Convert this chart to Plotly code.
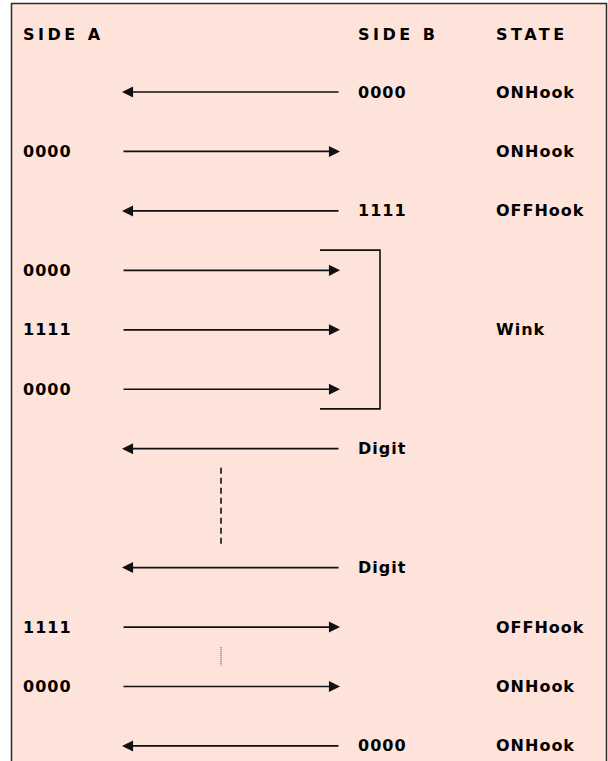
import plotly.graph_objects as go

# ---- data ----
headers = ["SIDE A", "SIDE B", "STATE"]
rows = list(range(1, 13))
side_a = ["", "0000", "", "0000", "1111", "0000", "", "", "", "1111", "0000", ""]
side_b = ["0000", "", "1111", "", "", "", "Digit", "", "Digit", "", "", "0000"]
state = ["ONHook", "ONHook", "OFFHook", "", "Wink", "", "", "", "", "OFFHook", "ONHook", "ONHook"]
direction = ["left", "right", "left", "right", "right", "right", "left", None, "left", "right", "right", "left"]
wink_rows = [4, 6]          # rows grouped by the bracket
gap_rows = [7.32, 8.62]     # dashed continuation between the Digit rows
dot_rows = [10.34, 10.65]   # dotted continuation

# ---- layout helpers (pixel-like x units, row units on y) ----
X_A, X_B, X_S = 22, 357, 495
ARROW_L, ARROW_R = 122, 340
HEADER_ROW = 0.03
FONT = "DejaVu Sans"
BG = "#FEE3DA"

fig = go.Figure()

# background panel with border (open at bottom)
fig.add_shape(type="rect", xref="paper", yref="paper", x0=11.5 / 608, x1=606.5 / 608,
              y0=-0.05, y1=1 - 3.5 / 761, fillcolor=BG,
              line=dict(color="#2b2b2b", width=1.5), layer="below")

def txt(x, y, s, spacing, size=16):
    if not s:
        return
    fig.add_annotation(x=x, y=y, xref="x", yref="y", xanchor="left", yanchor="middle",
                       text=f"<span style='letter-spacing:{spacing}px'><b>{s}</b></span>",
                       showarrow=False, font=dict(family=FONT, size=size, color="#000"))

for hx, h in zip([X_A, X_B, X_S], headers):
    txt(hx - 1, HEADER_ROW, h, 3.5)

for r, a, b, s, d in zip(rows, side_a, side_b, state, direction):
    txt(X_A - 1, r, a, 1)
    txt(X_B - 1, r, b, 1)
    txt(X_S - 1, r, s, 1)
    if d:
        tip, tail = (ARROW_L, ARROW_R) if d == "left" else (ARROW_R, ARROW_L)
        fig.add_annotation(x=tip, y=r, ax=tail, ay=r, xref="x", yref="y", axref="x", ayref="y",
                           text="", showarrow=True, arrowhead=2, arrowsize=1.3,
                           arrowwidth=1.7, arrowcolor="#111")

# bracket around the wink rows
bx0, bx1 = 320, 380
fig.add_trace(go.Scatter(x=[bx0, bx1, bx1, bx0],
                         y=[wink_rows[0] - 0.34, wink_rows[0] - 0.34, wink_rows[1] + 0.33, wink_rows[1] + 0.33],
                         mode="lines", line=dict(color="#111", width=1.6), hoverinfo="skip"))
# dashed continuation
fig.add_trace(go.Scatter(x=[221, 221], y=gap_rows, mode="lines",
                         line=dict(color="#111", width=1.6, dash="6px,4px"), hoverinfo="skip"))
# dotted continuation
fig.add_trace(go.Scatter(x=[221, 221], y=dot_rows, mode="lines",
                         line=dict(color="#333", width=1, dash="1px,1px"), hoverinfo="skip"))

y_top = 1 - 92 / 59.45
y_bot = 1 + (761 - 92) / 59.45
fig.update_layout(width=608, height=761, margin=dict(l=0, r=0, t=0, b=0),
                  paper_bgcolor="white", plot_bgcolor="rgba(0,0,0,0)", showlegend=False,
                  xaxis=dict(range=[0, 608], visible=False, fixedrange=True),
                  yaxis=dict(range=[y_bot, y_top], visible=False, fixedrange=True))
fig.write_html("out.html", config={"displayModeBar": False, "staticPlot": True},
               post_script="document.body.style.margin='0';document.body.style.overflow='hidden';")
